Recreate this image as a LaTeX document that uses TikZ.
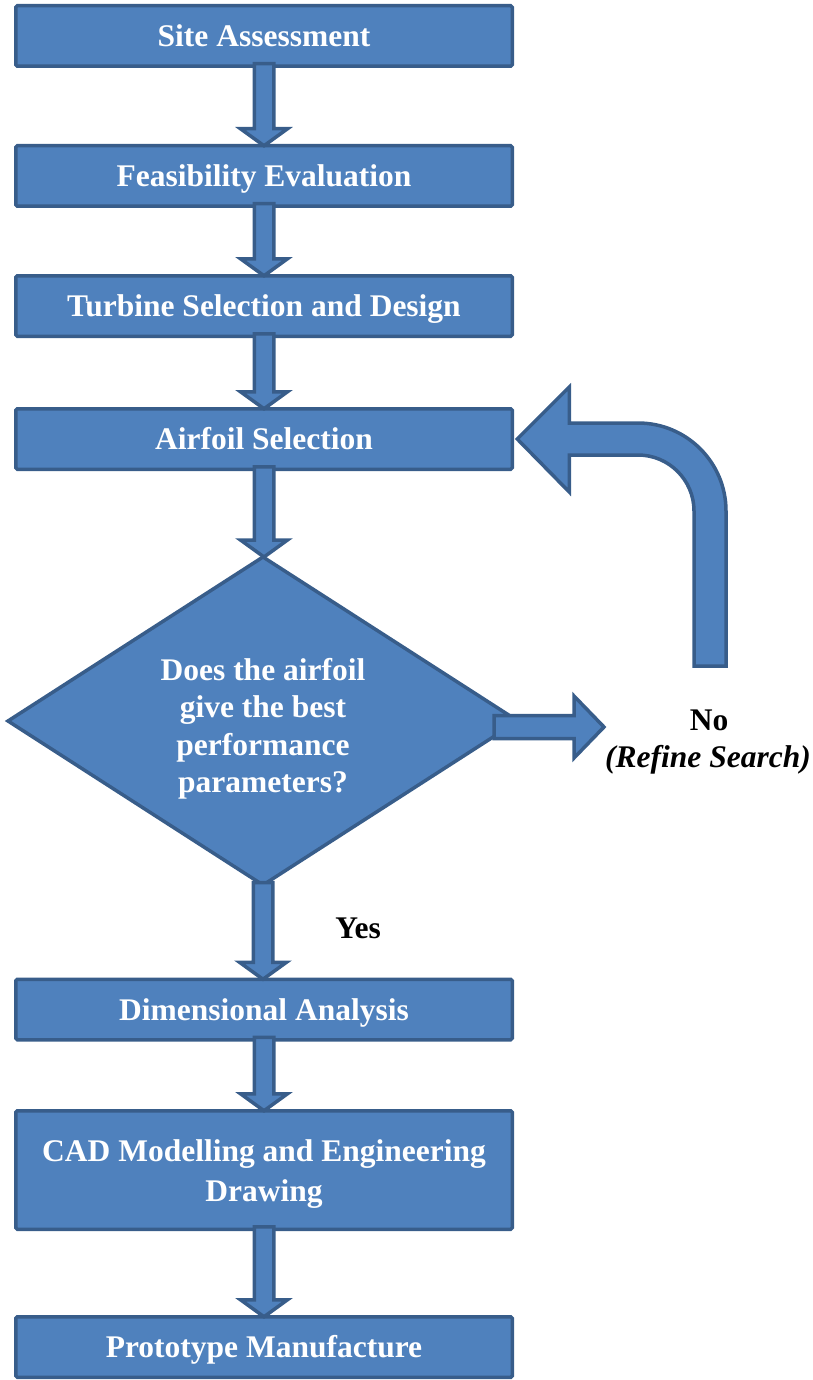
\documentclass[tikz,border=0pt]{standalone}
\usepackage{fontspec}
\setmainfont{Liberation Serif}
\usetikzlibrary{shapes.geometric,calc}

\definecolor{stepfill}{HTML}{4F81BD}
\definecolor{stepline}{HTML}{385D8A}

\tikzset{
  stepbox/.style={draw=stepline, fill=stepfill, line width=3.5pt,
    rounded corners=1.5pt, minimum width=496.5pt, minimum height=60.5pt,
    inner sep=0pt, outer sep=0pt, text=white, align=center,
    font=\fontsize{31.5}{40}\selectfont\bfseries,
    text height=21pt, text depth=0pt},
  decisionbox/.style={diamond, draw=stepline, fill=stepfill, line width=3.5pt,
    minimum width=510pt, minimum height=328pt, inner sep=0pt, outer sep=0pt},
  decisiontext/.style={text=white, align=center, inner sep=0pt,
    font=\fontsize{31.5}{37.3}\selectfont\bfseries,
    text height=132.9pt, text depth=0pt},
  labeltext/.style={inner sep=0pt, anchor=base, text=black,
    font=\fontsize{31.5}{37}\selectfont\bfseries},
  blockarrow/.style={draw=stepline, fill=stepfill, line width=3.5pt,
    line join=miter}
}

% broad downward block arrow from the bottom of one node to the top of the next
\newcommand\flowdown[2]{%
  \path[blockarrow] let \p1=(#1.south), \p2=(#2.north) in
    (\x1-9.75pt,\y1+2.5pt) -- (\x1-9.75pt,\y2+17pt) -- (\x1-23.5pt,\y2+17pt)
    -- (\x1,\y2) -- (\x1+23.5pt,\y2+17pt) -- (\x1+9.75pt,\y2+17pt)
    -- (\x1+9.75pt,\y1+2.5pt) -- cycle;}

\begin{document}
\begin{tikzpicture}[x=1pt,y=-1pt]
\useasboundingbox (0,0) rectangle (813,1380);

% process steps
\node[stepbox] (site)     at (264,36)     {Site Assessment};
\node[stepbox] (feas)     at (264,176)    {Feasibility Evaluation};
\node[stepbox] (turbine)  at (264,306)    {Turbine Selection and Design};
\node[stepbox] (airfoil)  at (264,439)    {Airfoil Selection};
\node[decisionbox] (check) at (263,721)   {};
\node[decisiontext] (checktext) at (263,726)
  {Does the airfoil\\give the best\\performance\\parameters?};
\node[stepbox] (dims)     at (264,1009.5) {Dimensional Analysis};
\node[stepbox, minimum height=118.5pt, text height=63pt, text depth=-2pt]
  (cad) at (264,1170) {CAD Modelling and Engineering\\Drawing};
\node[stepbox] (proto)    at (264,1347)   {Prototype Manufacture};

% main flow
\flowdown{site}{feas}
\flowdown{feas}{turbine}
\flowdown{turbine}{airfoil}
\flowdown{airfoil}{check}
\flowdown{check}{dims}
\flowdown{dims}{cad}
\flowdown{cad}{proto}

% "No" branch leaving the decision
\path[blockarrow] let \p1=(check.east) in
  (\x1-24pt,\y1+5.5pt) -- (\x1+56pt,\y1+5.5pt) -- (\x1+56pt,\y1+25pt)
  -- (\x1+86pt,\y1-6pt) -- (\x1+56pt,\y1-37pt) -- (\x1+56pt,\y1-17.5pt)
  -- (\x1-24pt,\y1-17.5pt) -- cycle;

% return loop back to the airfoil selection
\coordinate (loopfoot) at (710,666);
\path[blockarrow] let \p1=(airfoil.east), \p2=(loopfoot) in
  (\x2-16pt,\y2) -- (\x2-16pt,\y1-72pt)
  arc[start angle=0, end angle=90, radius=56pt]
  -- (\x1+57pt,\y1-16pt) -- (\x1+57pt,\y1-53pt) -- (\x1+5pt,\y1)
  -- (\x1+57pt,\y1+52pt) -- (\x1+57pt,\y1+16pt) -- (\x2-72pt,\y1+16pt)
  arc[start angle=90, end angle=0, radius=88pt]
  -- (\x2+16pt,\y2) -- cycle;

% branch labels
\node[labeltext] (nolabel) at (709,730) {No};
\node[labeltext] (refine)  at (708,767) {\itshape (Refine Search)};
\node[labeltext] (yeslabel) at (358,938) {Yes};
\end{tikzpicture}
\end{document}
